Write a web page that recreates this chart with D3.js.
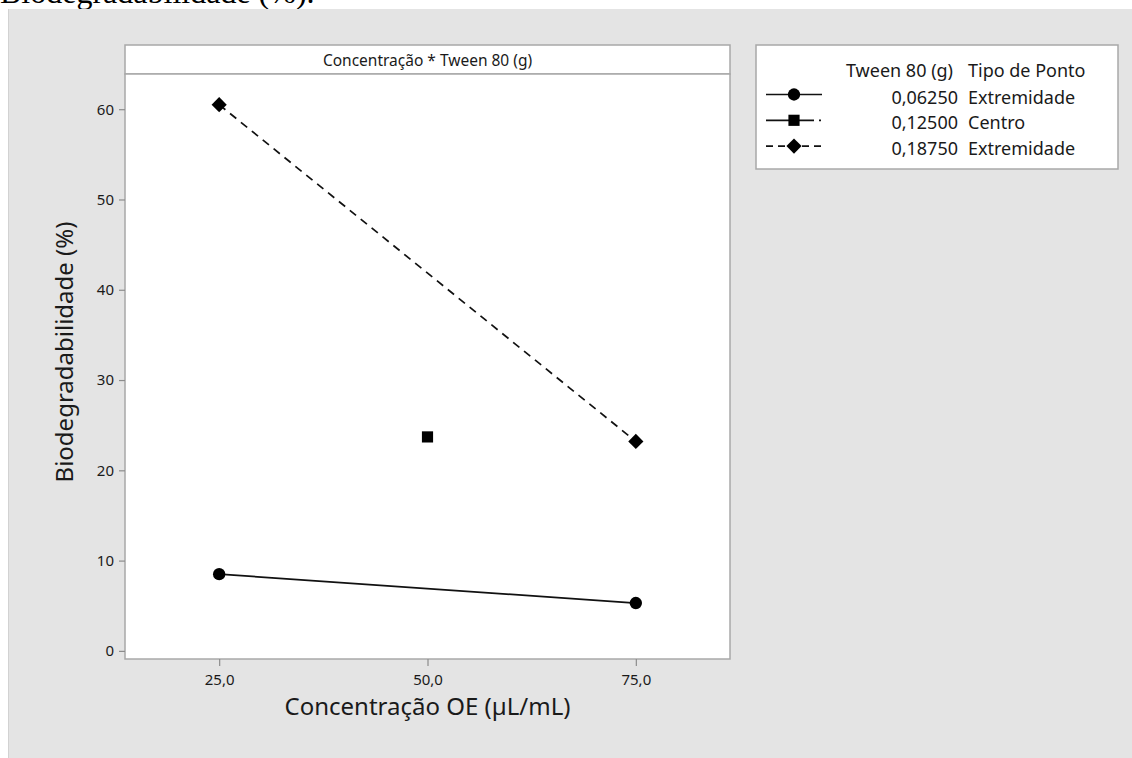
<!DOCTYPE html>
<html>
<head>
<meta charset="utf-8">
<title>Concentração * Tween 80 (g)</title>
<script src="https://d3js.org/d3.v7.min.js"></script>
<style>
  body { margin: 0; background: #ffffff; }
  svg { display: block; }
  text { font-family: "Noto Sans", "Open Sans", sans-serif; fill: #1a1a1a; }
</style>
</head>
<body>
<svg id="chart"></svg>
<script>
// data
var concOE = [25, 50, 75];
var tweenLevels = ["0,06250", "0,12500", "0,18750"];
var pointTypes = ["Extremidade", "Centro", "Extremidade"];
var lowTween = [8.5, 5.3];      // at 25 and 75
var centerTween = [23.7];       // at 50
var highTween = [60.5, 23.2];   // at 25 and 75
var yTicks = [0, 10, 20, 30, 40, 50, 60];
var xTicks = [25, 50, 75];

var width = 1132, height = 758;
var svg = d3.select('#chart').attr('width', width).attr('height', height);

// series table built from the arrays above
var series = [
  { level: tweenLevels[0], type: pointTypes[0], pts: [{x: concOE[0], y: lowTween[0]}, {x: concOE[2], y: lowTween[1]}], dash: null, sym: 'circle' },
  { level: tweenLevels[1], type: pointTypes[1], pts: [{x: concOE[1], y: centerTween[0]}], dash: '20,5,2,5', sym: 'square' },
  { level: tweenLevels[2], type: pointTypes[2], pts: [{x: concOE[0], y: highTween[0]}, {x: concOE[2], y: highTween[1]}], dash: '8,6', sym: 'diamond' }
];

// caption fragment cut at the top of the picture
svg.append('text')
  .attr('x', 0).attr('y', 3)
  .style('font-family', '"Liberation Serif", serif')
  .style('font-size', '32px')
  .style('fill', '#000')
  .text('Biodegradabilidade (%).');

// gray background
svg.append('rect').attr('x', 8).attr('y', 9).attr('width', width - 8).attr('height', height - 9)
  .attr('fill', '#e4e4e4');
svg.append('line').attr('x1', 8.5).attr('x2', 8.5).attr('y1', 9).attr('y2', height)
  .attr('stroke', '#d2d2d2').attr('stroke-width', 1);

var plotL = 125, plotR = 730, plotT = 74, plotB = 659;

var x = d3.scaleLinear().domain([13.7, 86.3]).range([plotL, plotR]);
var y = d3.scaleLinear().domain([-0.9, 63.9]).range([plotB, plotT]);

// panel header strip
svg.append('rect').attr('x', plotL).attr('y', 45).attr('width', plotR - plotL).attr('height', plotT - 45)
  .attr('fill', '#ffffff').attr('stroke', '#a8a8a8').attr('stroke-width', 1.5);
svg.append('text').attr('x', (plotL + plotR) / 2).attr('y', 60)
  .attr('text-anchor', 'middle').attr('dominant-baseline', 'central')
  .style('font-size', '15.5px')
  .text('Concentração * Tween 80 (g)');

// plot area
svg.append('rect').attr('x', plotL).attr('y', plotT).attr('width', plotR - plotL).attr('height', plotB - plotT)
  .attr('fill', '#ffffff').attr('stroke', '#a8a8a8').attr('stroke-width', 1.5);

// axes
var yAxis = svg.append('g').attr('transform', 'translate(' + plotL + ',0)')
  .call(d3.axisLeft(y).tickValues(yTicks).tickSize(6).tickPadding(5));
var xAxis = svg.append('g').attr('transform', 'translate(0,' + plotB + ')')
  .call(d3.axisBottom(x).tickValues(xTicks).tickSize(7).tickPadding(8)
    .tickFormat(function(d) { return d3.format('.1f')(d).replace('.', ','); }));
[yAxis, xAxis].forEach(function(a) {
  a.select('.domain').remove();
  a.selectAll('line').attr('stroke', '#8c8c8c').attr('stroke-width', 1.2);
  a.selectAll('text').style('font-size', '15px').style('font-family', '"Noto Sans", sans-serif').attr('fill', '#1a1a1a');
});

// axis titles
svg.append('text')
  .attr('transform', 'translate(63,352) rotate(-90)')
  .attr('text-anchor', 'middle').attr('dominant-baseline', 'central')
  .style('font-size', '24px')
  .text('Biodegradabilidade  (%)');
svg.append('text')
  .attr('x', (plotL + plotR) / 2).attr('y', 705)
  .attr('text-anchor', 'middle').attr('dominant-baseline', 'central')
  .style('font-size', '24px')
  .text('Concentração OE (µL/mL)');

var symbols = {
  circle: d3.symbol().type(d3.symbolCircle).size(120),
  square: d3.symbol().type(d3.symbolSquare).size(125),
  diamond: d3.symbol().type(d3.symbolSquare).size(115)
};
function symRotate(s) { return s === 'diamond' ? ' rotate(45)' : ''; }

var line = d3.line().x(function(d) { return x(d.x); }).y(function(d) { return y(d.y); });

series.forEach(function(s) {
  if (s.pts.length > 1) {
    svg.append('path').datum(s.pts)
      .attr('d', line)
      .attr('fill', 'none').attr('stroke', '#111')
      .attr('stroke-width', 1.7)
      .attr('stroke-dasharray', s.dash);
  }
  svg.selectAll(null).data(s.pts).enter().append('path')
    .attr('d', symbols[s.sym]())
    .attr('transform', function(d) { return 'translate(' + x(d.x) + ',' + y(d.y) + ')' + symRotate(s.sym); })
    .attr('fill', '#000');
});

// legend
var lg = svg.append('g');
lg.append('rect').attr('x', 756).attr('y', 45).attr('width', 362).attr('height', 124)
  .attr('fill', '#ffffff').attr('stroke', '#a8a8a8').attr('stroke-width', 1.5);
lg.append('text').attr('x', 953).attr('y', 70).attr('text-anchor', 'end').attr('dominant-baseline', 'central')
  .style('font-size', '18px').text('Tween 80 (g)');
lg.append('text').attr('x', 968).attr('y', 70).attr('dominant-baseline', 'central')
  .style('font-size', '18px').text('Tipo de Ponto');

series.forEach(function(s, i) {
  var ry = 96.5 + i * 25.8;
  lg.append('line').attr('x1', 766).attr('x2', 822).attr('y1', ry - 2).attr('y2', ry - 2)
    .attr('stroke', '#111').attr('stroke-width', 1.7)
    .attr('stroke-dasharray', s.dash ? (s.sym === 'square' ? '48,5,2,5' : '7,5') : null);
  lg.append('path').attr('d', symbols[s.sym]())
    .attr('transform', 'translate(794,' + (ry - 2) + ')' + symRotate(s.sym))
    .attr('fill', '#000');
  lg.append('text').attr('x', 958).attr('y', ry).attr('text-anchor', 'end').attr('dominant-baseline', 'central')
    .style('font-size', '18px').text(s.level);
  lg.append('text').attr('x', 968).attr('y', ry).attr('dominant-baseline', 'central')
    .style('font-size', '18px').text(s.type);
});
</script>
</body>
</html>
